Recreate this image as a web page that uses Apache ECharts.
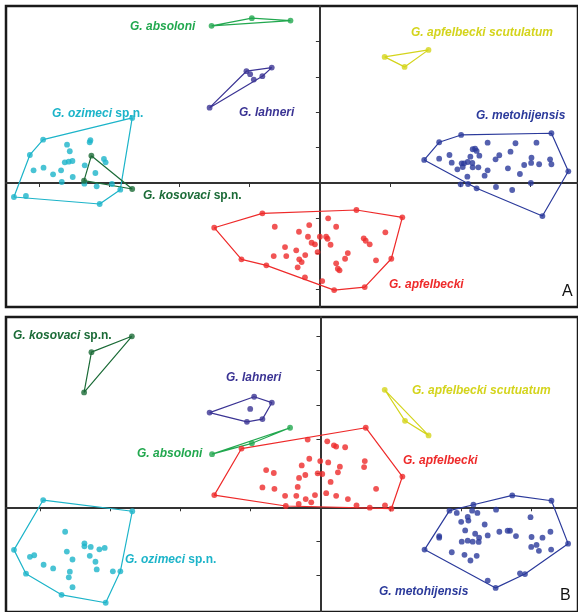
<!DOCTYPE html>
<html><head><meta charset="utf-8">
<script src="https://cdn.jsdelivr.net/npm/echarts@6/dist/echarts.min.js"></script>
<style>html,body{margin:0;padding:0;background:#fff}#c{width:578px;height:612px}</style>
</head><body><div id="c"></div>
<script>
// ---------- Panel A ----------
const A_absoloni_hull = [[-1.544,4.448],[-0.970,4.666],[-0.419,4.598]];
const A_absoloni_pts = [];
const A_lahneri_hull = [[-1.572,2.133],[-1.047,3.164],[-0.686,3.266],[-0.820,3.023]];
const A_lahneri_pts = [[-0.994,3.079],[-0.942,2.926]];
const A_scutulatum_hull = [[0.923,3.569],[1.548,3.768],[1.207,3.286]];
const A_scutulatum_pts = [];
const A_ozimeci_hull = [[-2.675,1.841],[-3.945,1.227],[-4.134,0.793],[-4.361,-0.397],[-3.139,-0.595],[-2.845,-0.190]];
const A_ozimeci_pts = [[-4.190,-0.368],[-3.604,1.085],[-3.271,1.210],[-3.281,1.153],[-3.565,0.898],[-3.636,0.586],[-3.580,0.603],[-3.527,0.623],[-3.078,0.680],[-3.054,0.586],[-3.352,0.501],[-4.081,0.360],[-3.939,0.433],[-3.803,0.246],[-3.689,0.360],[-3.523,0.170],[-3.679,0.028],[-3.357,-0.020],[-3.200,0.283],[-3.182,-0.093],[-2.964,-0.028]];
const A_kosovaci_hull = [[-3.257,0.773],[-3.362,0.065],[-2.675,-0.170]];
const A_kosovaci_pts = [];
const A_metohijensis_hull = [[1.487,0.652],[1.700,1.153],[2.013,1.360],[3.300,1.408],[3.541,0.331],[3.172,-0.935],[2.234,-0.150]];
const A_metohijensis_pts = [[2.391,1.142],[2.788,1.125],[3.087,1.142],[1.847,0.793],[1.700,0.688],[2.178,0.955],[2.212,0.972],[2.234,0.907],[2.145,0.745],[2.273,0.773],[2.557,0.785],[2.504,0.671],[2.717,0.887],[3.016,0.717],[3.011,0.567],[3.281,0.671],[3.300,0.530],[1.879,0.575],[2.021,0.558],[2.055,0.558],[2.107,0.595],[2.173,0.567],[2.036,0.453],[1.960,0.388],[2.178,0.445],[2.259,0.445],[2.391,0.360],[2.680,0.416],[2.912,0.510],[3.125,0.530],[2.102,0.178],[2.348,0.207],[2.851,0.255],[2.112,-0.028],[2.007,-0.037],[3.007,0.000],[2.510,-0.113],[2.741,-0.198]];
const A_apfelbecki_hull = [[-1.506,-1.266],[-0.820,-0.858],[0.521,-0.765],[1.175,-0.972],[1.018,-2.144],[0.639,-2.946],[0.203,-3.031],[-0.763,-2.331],[-1.118,-2.161]];
const A_apfelbecki_pts = [[-0.643,-1.238],[-0.152,-1.190],[0.118,-1.000],[0.232,-1.238],[-0.298,-1.380],[-0.170,-1.521],[0.000,-1.521],[0.089,-1.521],[0.109,-1.578],[-0.118,-1.691],[-0.071,-1.737],[0.152,-1.748],[0.625,-1.567],[0.653,-1.635],[0.710,-1.737],[0.933,-1.397],[-0.497,-1.813],[-0.337,-1.907],[-0.033,-1.955],[-0.658,-2.068],[-0.479,-2.068],[-0.209,-2.040],[-0.294,-2.161],[-0.260,-2.238],[-0.317,-2.388],[0.398,-1.983],[0.359,-2.144],[0.232,-2.275],[0.256,-2.428],[0.280,-2.473],[0.800,-2.190],[-0.213,-2.671],[0.033,-2.776]];

// ---------- Panel B ----------
const B_kosovaci_hull = [[-2.688,5.003],[-3.264,4.539],[-3.369,3.362]];
const B_kosovaci_pts = [];
const B_lahneri_hull = [[-1.580,2.771],[-0.945,3.235],[-0.693,3.061],[-0.827,2.580],[-1.048,2.501]];
const B_lahneri_pts = [[-1.001,2.878]];
const B_absoloni_hull = [[-1.545,1.554],[-0.977,1.872],[-0.433,2.327]];
const B_absoloni_pts = [];
const B_scutuatum_hull = [[0.916,3.438],[1.205,2.530],[1.541,2.104]];
const B_scutuatum_pts = [];
const B_apfelbecki_hull = [[-1.125,1.719],[0.646,2.328],[1.168,0.899],[1.011,-0.041],[-0.494,0.038],[-1.513,0.357]];
const B_apfelbecki_pts = [[-0.182,1.980],[0.097,1.930],[0.192,1.814],[0.224,1.777],[0.352,1.757],[-0.159,1.420],[-0.003,1.351],[0.111,1.313],[0.632,1.351],[0.622,1.177],[-0.267,1.226],[0.277,1.188],[-0.774,1.090],[-0.665,1.003],[-0.040,0.994],[0.026,0.974],[0.249,1.023],[-0.216,0.945],[-0.305,0.858],[0.145,0.742],[-0.827,0.580],[-0.656,0.539],[-0.324,0.597],[0.793,0.539],[-0.504,0.336],[-0.344,0.336],[-0.078,0.357],[0.082,0.414],[0.224,0.336],[-0.210,0.241],[-0.131,0.145],[0.391,0.241],[-0.310,0.096],[0.514,0.058],[0.703,-0.012],[0.920,0.058]];
const B_ozimeci_hull = [[-3.952,0.212],[-2.682,-0.116],[-2.852,-1.875],[-3.061,-2.794],[-3.690,-2.562],[-4.197,-1.942],[-4.368,-1.246]];
const B_ozimeci_pts = [[-3.639,-0.716],[-3.364,-1.055],[-3.364,-1.142],[-3.274,-1.159],[-3.151,-1.229],[-3.075,-1.188],[-4.141,-1.449],[-4.080,-1.403],[-3.615,-1.296],[-3.288,-1.420],[-3.534,-1.528],[-3.207,-1.594],[-3.946,-1.681],[-3.810,-1.788],[-3.189,-1.817],[-3.572,-1.884],[-2.959,-1.875],[-3.587,-2.049],[-3.534,-2.339]];
const B_metohijensis_hull = [[1.484,-1.238],[1.839,-0.099],[2.180,0.075],[2.734,0.348],[3.293,0.191],[3.530,-1.064],[2.915,-1.954],[2.497,-2.359]];
const B_metohijensis_pts = [[1.943,-0.165],[2.162,-0.099],[2.237,-0.165],[2.099,-0.281],[2.503,-0.070],[2.994,-0.290],[2.006,-0.426],[2.109,-0.388],[2.341,-0.504],[2.063,-0.678],[2.205,-0.774],[2.261,-0.890],[2.256,-1.014],[2.384,-0.823],[2.550,-0.716],[2.668,-0.687],[2.702,-0.687],[2.787,-0.841],[3.009,-0.870],[3.165,-0.890],[3.278,-0.716],[1.693,-0.841],[1.693,-0.890],[2.014,-1.006],[2.099,-0.977],[2.170,-1.006],[3.004,-1.159],[3.080,-1.101],[3.114,-1.275],[3.288,-1.238],[1.872,-1.316],[2.053,-1.391],[2.227,-1.420],[2.138,-1.557],[2.384,-2.145],[2.844,-1.933]];

const xTicks = [-4,-3,-2,-1,1,2,3];
const yTicksA = [-3,-2,-1,1,2,3,4];
const yTicksB = [-2,-1,1,2,3,4,5];

const COL = {
  absoloni:'#22a84f', kosovaci:'#1b6b37', lahneri:'#3b3494', metohijensis:'#2b3a9b',
  scut:'#d4d41c', ozimeci:'#1cb4c9', apfelbecki:'#ee2a2a'
};

const groups = [
  [0, A_absoloni_hull, A_absoloni_pts, COL.absoloni],
  [0, A_lahneri_hull, A_lahneri_pts, COL.lahneri],
  [0, A_scutulatum_hull, A_scutulatum_pts, COL.scut],
  [0, A_ozimeci_hull, A_ozimeci_pts, COL.ozimeci],
  [0, A_apfelbecki_hull, A_apfelbecki_pts, COL.apfelbecki],
  [0, A_metohijensis_hull, A_metohijensis_pts, COL.metohijensis],
  [0, A_kosovaci_hull, A_kosovaci_pts, COL.kosovaci],
  [1, B_kosovaci_hull, B_kosovaci_pts, COL.kosovaci],
  [1, B_lahneri_hull, B_lahneri_pts, COL.lahneri],
  [1, B_scutuatum_hull, B_scutuatum_pts, COL.scut],
  [1, B_apfelbecki_hull, B_apfelbecki_pts, COL.apfelbecki],
  [1, B_absoloni_hull, B_absoloni_pts, COL.absoloni],
  [1, B_ozimeci_hull, B_ozimeci_pts, COL.ozimeci],
  [1, B_metohijensis_hull, B_metohijensis_pts, COL.metohijensis]
];

const series = [];
groups.forEach(([g, hull, pts, c]) => {
  series.push({type:'line', xAxisIndex:g, yAxisIndex:g, data: hull.concat([hull[0]]),
    showSymbol:false, symbol:'none', lineStyle:{color:c, width:1.2}, silent:true, z:3});
  series.push({type:'scatter', xAxisIndex:g, yAxisIndex:g, data: hull.concat(pts),
    symbolSize:5.8, itemStyle:{color:c}, silent:true, z:4});
});

function xAx(g, min, max){
  return {type:'value', gridIndex:g, min:min, max:max,
    axisLine:{onZero:true, lineStyle:{color:'#333', width:2}},
    axisTick:{show:true, length:4, lineStyle:{color:'#333', width:1}, customValues:xTicks},
    axisLabel:{show:false}, splitLine:{show:false}};
}
function yAx(g, min, max, ticks){
  return {type:'value', gridIndex:g, min:min, max:max,
    axisLine:{onZero:true, lineStyle:{color:'#333', width:2}},
    axisTick:{show:true, length:4, lineStyle:{color:'#333', width:1}, customValues:ticks},
    axisLabel:{show:false}, splitLine:{show:false}};
}

const F = 'Liberation Sans, Arial, sans-serif';
function lab(x, y, name, extra, color){
  return {type:'text', x:x, y:y, z:10, style:{
    text: extra ? '{i|'+name+'}{n| '+extra+'}' : '{i|'+name+'}',
    rich:{ i:{fontFamily:F, fontSize:12, fontWeight:'bold', fontStyle:'italic', fill:color},
           n:{fontFamily:F, fontSize:12, fontWeight:'bold', fill:color}},
    verticalAlign:'middle', align:'left'}};
}

const chart = echarts.init(document.getElementById('c'), null, {renderer:'canvas'});
chart.setOption({
  animation:false,
  backgroundColor:'#fff',
  grid:[
    {left:6, top:6, width:574, height:301, show:true, borderColor:'#1a1a1a', borderWidth:2.5, backgroundColor:'transparent'},
    {left:6, top:317, width:574, height:298, show:true, borderColor:'#1a1a1a', borderWidth:2.5, backgroundColor:'transparent'}
  ],
  xAxis:[xAx(0,-4.474,3.679), xAx(1,-4.482,3.671)],
  yAxis:[yAx(0,-3.51,5.01,yTicksA), yAx(1,-3.064,5.568,yTicksB)],
  series: series,
  graphic:[
    lab(130,27,'G. absoloni',null,COL.absoloni),
    lab(239,113,'G. lahneri',null,COL.lahneri),
    lab(411,33,'G. apfelbecki scutulatum',null,COL.scut),
    lab(476,116,'G. metohijensis',null,COL.metohijensis),
    lab(52,114,'G. ozimeci','sp.n.',COL.ozimeci),
    lab(143,196,'G. kosovaci','sp.n.',COL.kosovaci),
    lab(389,285,'G. apfelbecki',null,COL.apfelbecki),
    {type:'text', x:562, y:292, z:10, style:{text:'A', fontFamily:F, fontSize:16, fill:'#111', verticalAlign:'middle'}},
    lab(13,336,'G. kosovaci','sp.n.',COL.kosovaci),
    lab(226,378,'G. lahneri',null,COL.lahneri),
    lab(137,454,'G. absoloni',null,COL.absoloni),
    lab(412,391,'G. apfelbecki scutuatum',null,COL.scut),
    lab(403,461,'G. apfelbecki',null,COL.apfelbecki),
    lab(125,560,'G. ozimeci','sp.n.',COL.ozimeci),
    lab(379,592,'G. metohijensis',null,COL.metohijensis),
    {type:'text', x:560, y:596, z:10, style:{text:'B', fontFamily:F, fontSize:16, fill:'#111', verticalAlign:'middle'}}
  ]
});
</script></body></html>
